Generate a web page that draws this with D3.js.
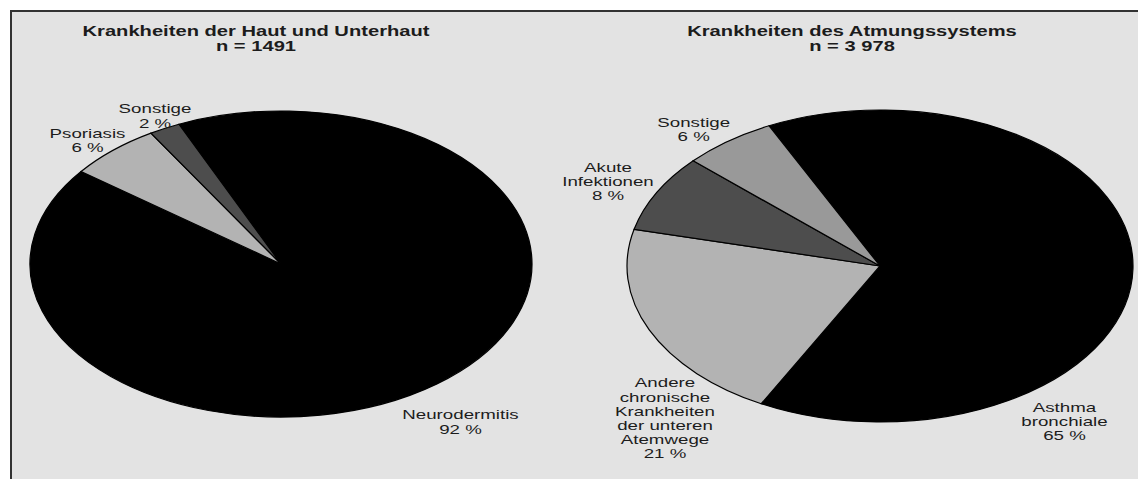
<!DOCTYPE html>
<html>
<head>
<meta charset="utf-8">
<script src="https://cdn.jsdelivr.net/npm/d3@7"></script>
<style>
  html, body { margin: 0; padding: 0; background: #ffffff; overflow: hidden; }
  svg { display: block; }
  text { font-family: "Liberation Sans", Arial, sans-serif; fill: #1c1c1c; }
</style>
</head>
<body>
<svg id="chart" width="1138" height="479"></svg>
<script>
// Haut und Unterhaut
const skinCategories = ["Neurodermitis", "Psoriasis", "Sonstige"];
const skinValues = [92, 6, 2];
const skinTitle = ["Krankheiten der Haut und Unterhaut", "n = 1491"];

// Atmungssystem
const respCategories = ["Asthma bronchiale", "Andere chronische Krankheiten der unteren Atemwege", "Akute Infektionen", "Sonstige"];
const respValues = [65, 21, 8, 6];
const respTitle = ["Krankheiten des Atmungssystems", "n = 3 978"];

// Label line breaks per category
const labelLines = {
  "Neurodermitis": ["Neurodermitis"],
  "Psoriasis": ["Psoriasis"],
  "Sonstige": ["Sonstige"],
  "Asthma bronchiale": ["Asthma", "bronchiale"],
  "Andere chronische Krankheiten der unteren Atemwege": ["Andere", "chronische", "Krankheiten", "der unteren", "Atemwege"],
  "Akute Infektionen": ["Akute", "Infektionen"]
};

const W = 1138, H = 479;
const stretch = 1.44;   // horizontal text stretch
const lineH = 14.2;

const svg = d3.select("#chart");

// panel background, framed on top and left
svg.append("rect")
  .attr("x", 11).attr("y", 11).attr("width", W).attr("height", H)
  .attr("fill", "#e3e3e3");
svg.append("path")
  .attr("d", `M11,${H} L11,11 L${W},11`)
  .attr("fill", "none")
  .attr("stroke", "#333").attr("stroke-width", 2);

const fills = {
  skin: ["#000000", "#b3b3b3", "#4d4d4d"],
  resp: ["#000000", "#b3b3b3", "#4d4d4d", "#999999"]
};

const panels = [
  {
    key: "skin", categories: skinCategories, values: skinValues, title: skinTitle,
    cx: 281, cy: 264, rx: 251, ry: 153, start: -24, titleX: 256,
    labels: [[460.5, 419.3], [87.5, 137.7], [155, 113.3]]
  },
  {
    key: "resp", categories: respCategories, values: respValues, title: respTitle,
    cx: 880, cy: 266, rx: 253, ry: 156, start: -26, titleX: 852,
    labels: [[1064.5, 411.7], [665, 387.3], [608, 171.7], [693.7, 126.7]]
  }
];

const R = 100;
const arc = d3.arc().innerRadius(0).outerRadius(R);

panels.forEach(p => {
  const color = d3.scaleOrdinal().domain(p.categories).range(fills[p.key]);
  const startRad = p.start * Math.PI / 180;
  const pie = d3.pie().sort(null).value(d => d.v)
    .startAngle(startRad).endAngle(startRad + 2 * Math.PI);
  const data = p.categories.map((c, i) => ({ c, v: p.values[i] }));
  const arcs = pie(data);

  const g = svg.append("g")
    .attr("transform", `translate(${p.cx},${p.cy}) scale(${p.rx / R},${p.ry / R})`);

  g.selectAll("path").data(arcs).join("path")
    .attr("d", arc)
    .attr("fill", d => color(d.data.c))
    .attr("stroke", "#000")
    .attr("stroke-width", 1.2)
    .attr("vector-effect", "non-scaling-stroke");

  // title
  p.title.forEach((t, i) => {
    svg.append("text")
      .attr("transform", `translate(${p.titleX},${36 + i * 15}) scale(${stretch},1)`)
      .attr("text-anchor", "middle")
      .attr("font-size", 14)
      .attr("font-weight", "bold")
      .text(t);
  });

  // slice labels
  arcs.forEach((a, i) => {
    const [lx, ly] = p.labels[i];
    const lines = labelLines[a.data.c].concat([`${a.data.v} %`]);
    lines.forEach((ln, j) => {
      svg.append("text")
        .attr("transform", `translate(${lx},${ly + j * lineH}) scale(${stretch},1)`)
        .attr("text-anchor", "middle")
        .attr("font-size", 13)
        .text(ln);
    });
  });
});
</script>
</body>
</html>
